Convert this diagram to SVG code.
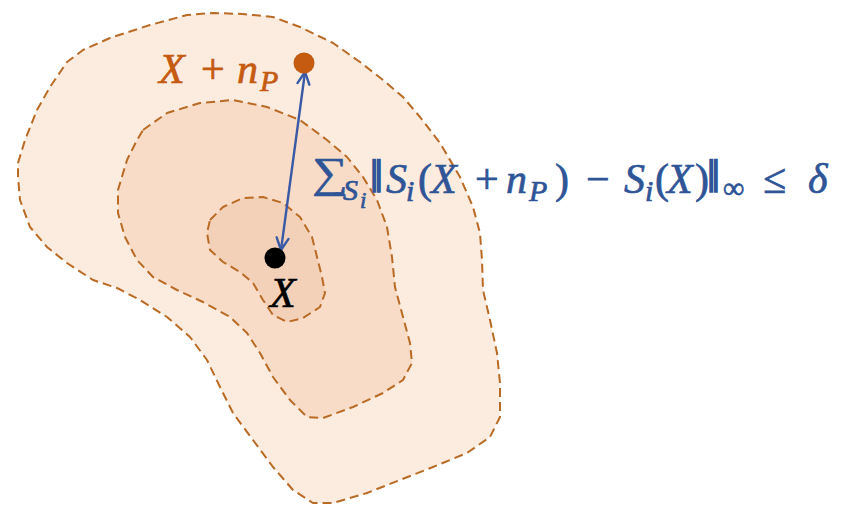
<svg xmlns="http://www.w3.org/2000/svg" width="852" height="508" viewBox="0 0 852 508">
<style>
.region{stroke:#B96A24;stroke-width:2;stroke-dasharray:9 5;stroke-linejoin:round}
.m{font-family:"Liberation Serif","DejaVu Serif",serif;font-size:42px;stroke-width:0.7px}
.it{font-style:italic}
.sub{font-size:30px}
.subsub{font-size:23px}
.bar{font-size:46px;stroke-width:1.6px}
.blue{fill:#2F5597;stroke:#2F5597}
.orange{fill:#C55A11;stroke:#C55A11}
.black{fill:#000000;stroke:#000000}
</style>
<defs>
<marker id="ah" markerUnits="userSpaceOnUse" markerWidth="18" markerHeight="18" viewBox="0 0 18 18" refX="16" refY="9" orient="auto-start-reverse">
<path d="M4,3 L16,9 L4,15" fill="none" stroke="#3A5AA6" stroke-width="2.4" stroke-linecap="round" stroke-linejoin="round"/>
</marker>
</defs>
<rect width="852" height="508" fill="#FFFFFF"/>
<g id="outer-region">
<polygon class="region" fill="#FCEBDF" points="18,163 25,140 37,110 50,87 67,62 83,50 110,38 150,25 187,15 213,13 243,14 273,17 300,27 333,43 360,62 383,80 403,97 420,117 440,143 460,177 473,207 480,233 482,260 483,290 490,320 497,353 500,383 500,417 490,437 467,453 433,467 400,480 367,493 333,503 313,503 293,490 273,467 253,440 233,413 220,387 207,360 190,337 167,317 140,300 117,288 93,280 67,263 47,247 30,227 20,200 18,177"/>
</g>
<g id="middle-region">
<polygon class="region" fill="#F8DCC8" points="143,130 167,113 200,103 233,100 267,107 300,120 327,140 347,157 363,177 377,200 387,227 392,257 395,287 403,317 410,343 412,363 403,380 383,393 353,407 323,418 307,417 290,400 273,377 260,353 247,333 230,317 203,302 177,290 153,277 137,260 125,237 118,213 118,190 127,160 137,140"/>
</g>
<g id="inner-region">
<polygon class="region" fill="#F3D1B8" points="210,220 223,207 243,198 263,197 283,203 300,217 312,237 317,257 322,277 325,293 320,307 303,318 287,322 273,315 263,300 253,283 240,272 223,262 210,250 207,233"/>
</g>
<g id="connectors">
<line x1="305" y1="72" x2="281" y2="250" stroke="#3A5AA6" stroke-width="2.4" marker-start="url(#ah)" marker-end="url(#ah)"/>
</g>
<g id="node-perturbed">
<circle cx="304" cy="63" r="10.5" fill="#C55A11"/>
<text class="m orange" y="83"><tspan class="it" x="159">X</tspan><tspan x="201">+</tspan><tspan class="it" x="237">n</tspan><tspan class="it sub" x="260" y="91">P</tspan></text>
</g>
<g id="node-x">
<circle cx="275" cy="258" r="10.5" fill="#000000"/>
<text class="m it black" x="270" y="307">X</text>
</g>
<g id="formula">
<text class="m blue" transform="translate(312,187) scale(0.93,0.8)" style="font-size:54px">∑</text>
<text class="m blue" y="193"><tspan class="it sub" x="343" y="200">S</tspan><tspan class="it subsub" x="360" y="208">i</tspan><tspan class="bar" x="370" y="192">‖</tspan><tspan class="it" x="386" y="193">S</tspan><tspan class="it sub" x="406" y="201">i</tspan><tspan x="418" y="193">(</tspan><tspan class="it" x="431">X</tspan><tspan x="475">+</tspan><tspan class="it" x="506">n</tspan><tspan class="it sub" x="529" y="201">P</tspan><tspan x="555" y="193">)</tspan><tspan x="586">−</tspan><tspan class="it" x="624">S</tspan><tspan class="it sub" x="645" y="201">i</tspan><tspan x="655" y="193">(</tspan><tspan class="it" x="667">X</tspan><tspan x="695">)</tspan><tspan class="bar" x="707" y="192">‖</tspan><tspan class="sub" x="723" y="198">∞</tspan><tspan x="763" y="193">≤</tspan><tspan class="it" x="808">δ</tspan></text>
</g>
</svg>
